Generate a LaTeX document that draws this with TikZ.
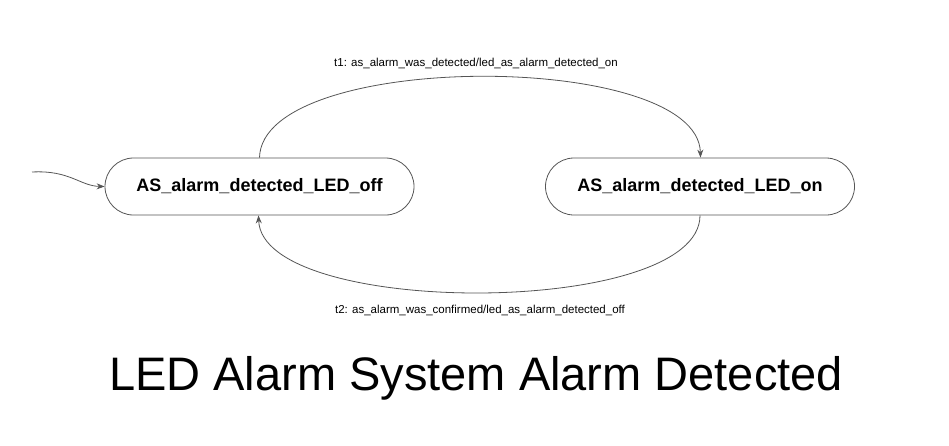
\documentclass[tikz,border=0pt]{standalone}
\usepackage{fontspec}
\setmainfont{Liberation Sans}
\usetikzlibrary{arrows.meta,shapes.misc}
\definecolor{edge}{HTML}{555555}
\begin{document}
\begin{tikzpicture}[x=1pt,y=-1pt,
  state/.style={draw=edge,line width=0.8pt,rounded rectangle,minimum width=309pt,minimum height=57pt,inner sep=0pt,font=\fontsize{18}{20}\selectfont\bfseries},
  conn/.style={draw=edge,line width=0.8pt,-{Stealth[length=8pt,width=6pt]}},
  lbl/.style={font=\fontsize{11.5}{13}\selectfont}]
\useasboundingbox (0,0) rectangle (949,445);
\node[state] (off) at (259.5,186.5) {AS\_alarm\_detected\_LED\_off};
\node[state] (on) at (700,186.5) {AS\_alarm\_detected\_LED\_on};
\coordinate (init) at (32,172);
\draw[conn] (init) .. controls (70,170) and (80,186) .. (off.west);
\draw[conn] (off.north) .. controls (262,50) and (698,50) .. ([xshift=0.5pt]on.north);
\draw[conn] (on.south) .. controls (700,318) and (262,318) .. ([xshift=-1pt]off.south);
\node[lbl,anchor=base] (t1) at (476,66) {t1: as\_alarm\_was\_detected/led\_as\_alarm\_detected\_on};
\node[lbl,anchor=base] (t2) at (480,313) {t2: as\_alarm\_was\_confirmed/led\_as\_alarm\_detected\_off};
\node[font=\fontsize{47}{52}\selectfont,anchor=base] (title) at (476,390) {LED Alarm System Alarm Detected};
\end{tikzpicture}
\end{document}
